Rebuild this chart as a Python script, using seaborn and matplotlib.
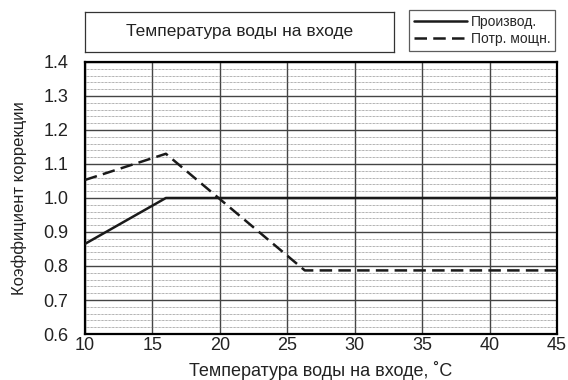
import numpy as np
import pandas as pd
import seaborn as sns
import matplotlib.pyplot as plt
from matplotlib.ticker import MultipleLocator

# Data
temp_perf = [10, 16, 45]
coef_perf = [0.865, 1.0, 1.0]
temp_power = [10, 16, 26.3, 45]
coef_power = [1.053, 1.13, 0.787, 0.787]

title_text = "Температура воды на входе"
xlabel = "Температура воды на входе, ˚C"
ylabel = "Коэффициент коррекции"
series_names = ["Производ.", "Потр. мощн."]

df = pd.concat([
    pd.DataFrame({"t": temp_perf, "k": coef_perf, "s": series_names[0]}),
    pd.DataFrame({"t": temp_power, "k": coef_power, "s": series_names[1]}),
])

sns.set_style("white")
plt.rcParams['font.family'] = ['Liberation Sans', 'DejaVu Sans']

fig = plt.figure(figsize=(5.68, 3.8), dpi=100)
ax = fig.add_axes([0.1496, 0.121, 0.831, 0.716])

sns.lineplot(data=df, x="t", y="k", hue="s", style="s",
             palette=["#1a1a1a", "#1a1a1a"],
             dashes={series_names[0]: "", series_names[1]: (5, 2.5)},
             linewidth=1.8, ax=ax, legend=False, zorder=5)

ax.set_xlim(10, 45)
ax.set_ylim(0.6, 1.4)
ax.xaxis.set_major_locator(MultipleLocator(5))
ax.yaxis.set_major_locator(MultipleLocator(0.1))
ax.yaxis.set_minor_locator(MultipleLocator(0.02))
ax.set_yticklabels([f"{v:.1f}" for v in ax.get_yticks()])
ax.grid(which="major", axis="both", color="#444444", linewidth=1.0, linestyle="-")
ax.grid(which="minor", axis="y", color="#666666", linewidth=0.5, linestyle=(0, (1, 1)))
for sp in ax.spines.values():
    sp.set_color("black")
    sp.set_linewidth(1.6)
ax.tick_params(axis="both", which="both", length=0, labelsize=13, colors="#222222")
ax.tick_params(axis="y", pad=12)
ax.tick_params(axis="x", pad=2)
ax.set_xlabel(xlabel, fontsize=13, color="#222222", labelpad=5)
ax.set_ylabel(ylabel, fontsize=12, color="#222222", labelpad=12)

# Title box
tax = fig.add_axes([0.1496, 0.8632, 0.544, 0.1053])
tax.set_xticks([])
tax.set_yticks([])
for sp in tax.spines.values():
    sp.set_color("#333333")
    sp.set_linewidth(0.9)
tax.text(0.5, 0.5, title_text, ha="center", va="center", fontsize=12.5, color="#222222")

# Legend box
handles = [plt.Line2D([0], [0], color="#1a1a1a", lw=1.8),
           plt.Line2D([0], [0], color="#1a1a1a", lw=1.8, dashes=(5, 2.5))]
leg = fig.legend(handles, series_names, loc="upper right",
                 bbox_to_anchor=(0.9771, 0.9737), fontsize=10, frameon=True,
                 fancybox=False, handlelength=3.8, handletextpad=0.25,
                 labelspacing=0.25, borderpad=0.35, borderaxespad=0)
leg.get_frame().set_edgecolor("#333333")
leg.get_frame().set_linewidth(0.9)

fig.savefig("out.png", dpi=100)
